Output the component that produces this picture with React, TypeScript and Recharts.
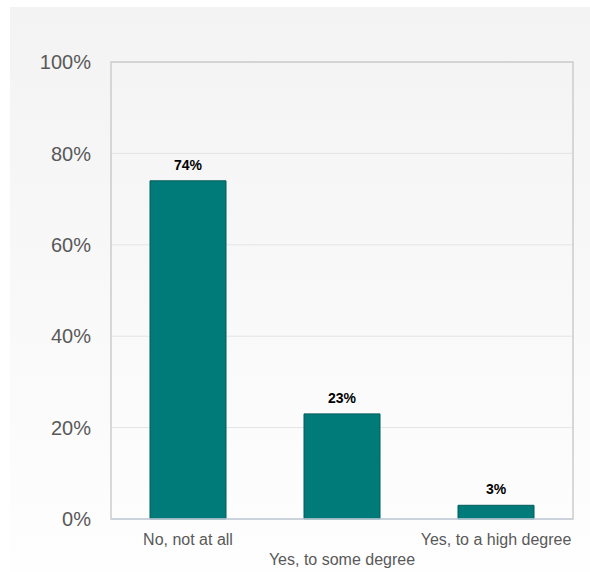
import { Bar, BarChart, CartesianGrid, LabelList, ReferenceArea, XAxis, YAxis } from "recharts";

const categories = ["No, not at all", "Yes, to some degree", "Yes, to a high degree"];
const shares = [74, 23, 3];
const yTicks = [0, 20, 40, 60, 80, 100];

const data = categories.map((name, i) => ({ name, value: shares[i] }));

const FONT = "'Liberation Sans', Arial, sans-serif";

const StaggeredTick = (props: any) => {
  const { x, y, payload, index } = props;
  const dy = index % 2 === 1 ? 38 : 18;
  return (
    <text x={x} y={y + dy} textAnchor="middle" fill="#595959" fontSize={16} fontFamily={FONT}>
      {payload.value}
    </text>
  );
};

export default function App() {
  return (
    <div
      style={{
        position: "absolute",
        left: 10,
        top: 7,
        width: 580,
        height: 565,
        background: "linear-gradient(#f3f3f3, #fefefe)",
      }}
    >
      <BarChart width={580} height={565} data={data} margin={{ top: 55, right: 17, left: 0, bottom: 0 }}>
        <CartesianGrid vertical={false} stroke="#e4e4e4" />
        <ReferenceArea y1={0} y2={100} fill="none" stroke="#cccccc" strokeWidth={1.5} />
        <XAxis
          dataKey="name"
          height={53}
          tickLine={false}
          axisLine={{ stroke: "#c9d0de", strokeWidth: 1.5 }}
          tick={<StaggeredTick />}
          interval={0}
        />
        <YAxis
          width={101}
          domain={[0, 100]}
          ticks={yTicks}
          tickFormatter={(v) => `${v}%`}
          tickLine={false}
          axisLine={false}
          tickMargin={14}
          tick={{ fill: "#595959", fontSize: 20, fontFamily: FONT }}
        />
        <Bar dataKey="value" fill="#007b7a" stroke="#005c5b" strokeWidth={1} barSize={76} isAnimationActive={false}>
          <LabelList
            dataKey="value"
            position="top"
            offset={11}
            formatter={(v: any) => `${v}%`}
            style={{ fill: "#000000", fontSize: 14, fontWeight: "bold", fontFamily: FONT }}
          />
        </Bar>
      </BarChart>
    </div>
  );
}
